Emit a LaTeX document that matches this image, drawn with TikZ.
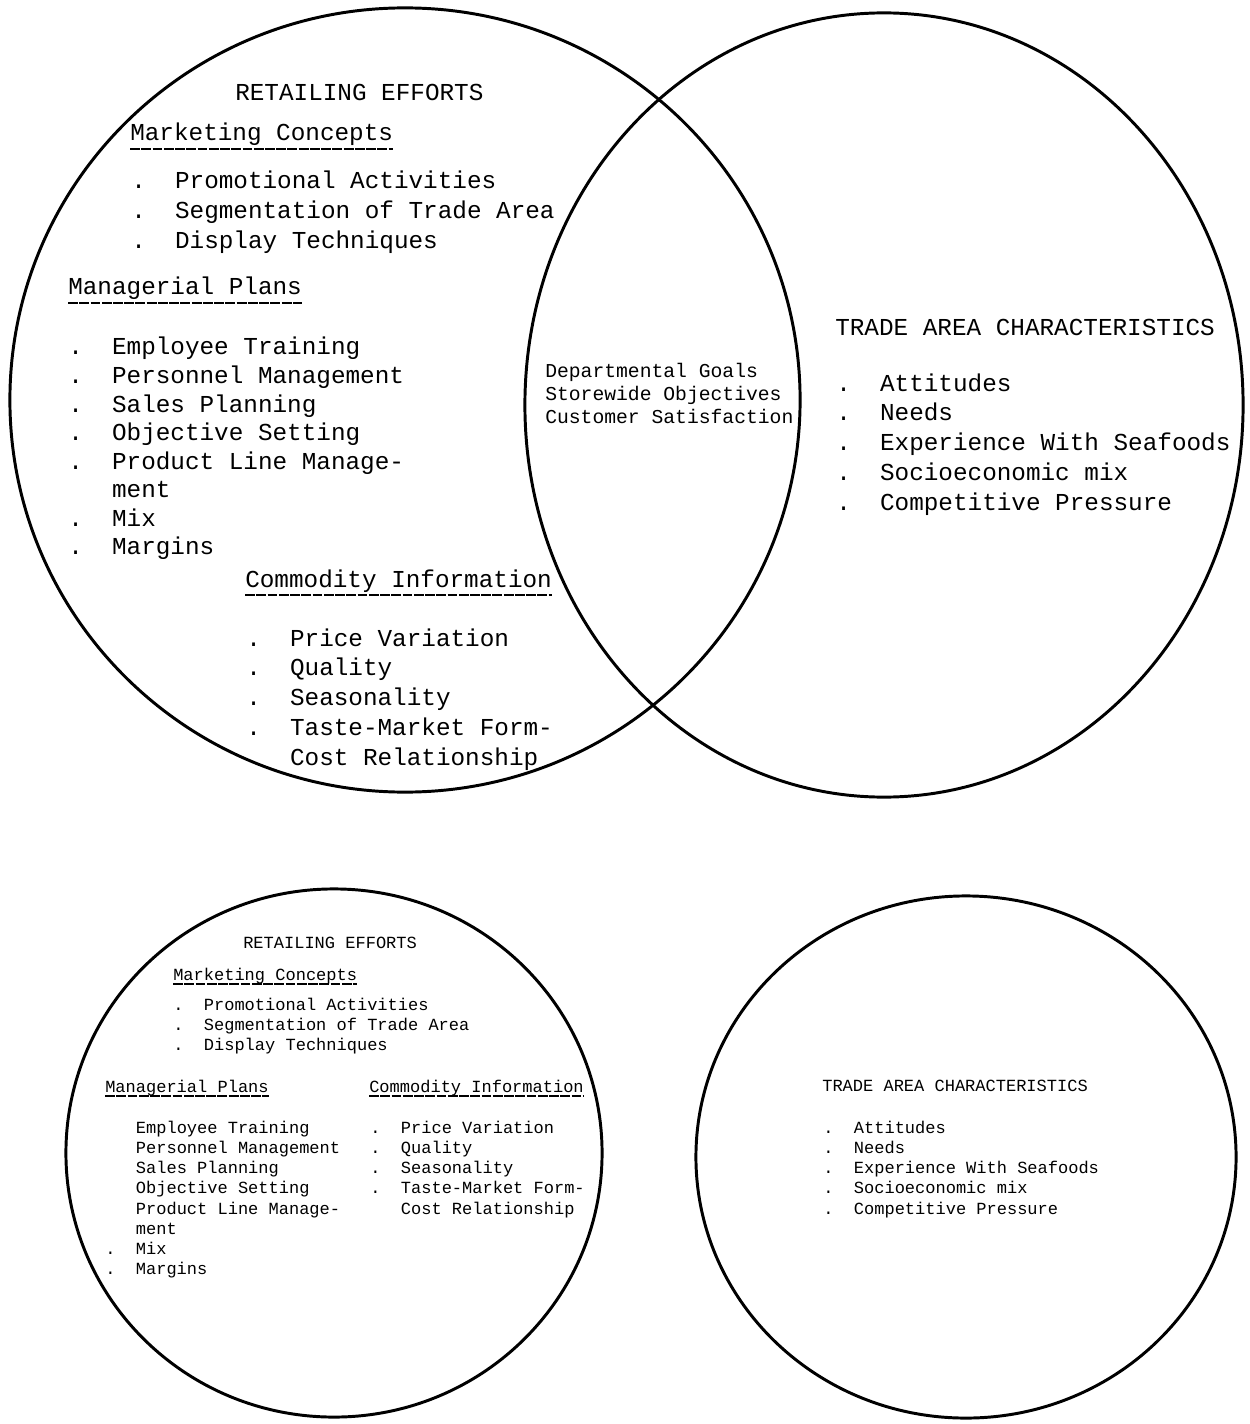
\documentclass[tikz,border=0pt]{standalone}
\usepackage{fontspec}
\setmonofont{Liberation Mono}

\begin{document}
\begin{tikzpicture}[x = 0.025cm, y = -0.025cm, ring/.style = {draw, line width = 2.1pt}, txt/.style = {anchor = base west, inner sep = 0pt, font = \ttfamily\fontsize{17.3}{21}\selectfont}, lst/.style = {txt, font = \ttfamily\fontsize{17.3}{#1}\selectfont}, lens/.style = {txt, font = \ttfamily\fontsize{14}{16.4}\selectfont}, small/.style = {txt, font = \ttfamily\fontsize{12.1}{14.4}\selectfont}, uline/.style = {line width = 1.1pt, dash pattern = on 7pt off 1pt}]
\useasboundingbox (0,0) rectangle (1249,1424);

% upper pair
\draw[ring] (405,400) ellipse [x radius = 9.875cm, y radius = 9.8cm];
\draw[ring] (884,405) ellipse [x radius = 8.975cm, y radius = 9.8cm];

\node[txt] (re1) at (235,101) {RETAILING EFFORTS};
\node[txt] (mc1) at (130,141) {Marketing Concepts};
\node[lst = 21.3] (mcl1) at (131,189) {\begin{tabular}[t]{@{}l@{}}.~~Promotional Activities\\.~~Segmentation of Trade Area\\.~~Display Techniques\end{tabular}};
\node[txt] (mp1) at (68,295) {Managerial Plans};
\node[lst = 20.3] (mpl1) at (68,355) {\begin{tabular}[t]{@{}l@{}}.~~Employee Training\\.~~Personnel Management\\.~~Sales Planning\\.~~Objective Setting\\.~~Product Line Manage-\\~~~ment\\.~~Mix\\.~~Margins\end{tabular}};
\node[txt] (ci1) at (245,587) {Commodity Information};
\node[lst = 21.2] (cil1) at (246,646) {\begin{tabular}[t]{@{}l@{}}.~~Price Variation\\.~~Quality\\.~~Seasonality\\.~~Taste-Market Form-\\~~~Cost Relationship\end{tabular}};

\node[lens] (goals) at (545,377) {\begin{tabular}[t]{@{}l@{}}Departmental Goals\\Storewide Objectives\\Customer Satisfaction\end{tabular}};

\node[txt] (tac1) at (835,335) {TRADE AREA CHARACTERISTICS};
\node[lst = 21.3] (tacl1) at (836,391) {\begin{tabular}[t]{@{}l@{}}.~~Attitudes\\.~~Needs\\.~~Experience With Seafoods\\.~~Socioeconomic mix\\.~~Competitive Pressure\end{tabular}};

\draw[uline] ([yshift = -5.5pt]mc1.base west) -- ([yshift = -5.5pt]mc1.base east);
\draw[uline] ([yshift = -5.5pt]mp1.base west) -- ([yshift = -5.5pt]mp1.base east);
\draw[uline] ([yshift = -5.5pt]ci1.base west) -- ([yshift = -5.5pt]ci1.base east);

% lower pair
\draw[ring] (334,1153) ellipse [x radius = 6.7cm, y radius = 6.6cm];
\draw[ring] (966,1157) ellipse [x radius = 6.75cm, y radius = 6.525cm];

\node[small] (re2) at (243,948) {RETAILING EFFORTS};
\node[small] (mc2) at (173,980) {Marketing Concepts};
\node[small] (mcl2) at (173,1010) {\begin{tabular}[t]{@{}l@{}}.~~Promotional Activities\\.~~Segmentation of Trade Area\\.~~Display Techniques\end{tabular}};
\node[small] (mp2) at (105,1092) {Managerial Plans};
\node[small] (mpl2) at (105,1133) {\begin{tabular}[t]{@{}l@{}}~~~Employee Training\\~~~Personnel Management\\~~~Sales Planning\\~~~Objective Setting\\~~~Product Line Manage-\\~~~ment\\.~~Mix\\.~~Margins\end{tabular}};
\node[small] (ci2) at (369,1092) {Commodity Information};
\node[small] (cil2) at (370,1133) {\begin{tabular}[t]{@{}l@{}}.~~Price Variation\\.~~Quality\\.~~Seasonality\\.~~Taste-Market Form-\\~~~Cost Relationship\end{tabular}};

\node[small] (tac2) at (822,1091) {TRADE AREA CHARACTERISTICS};
\node[small] (tacl2) at (823,1133) {\begin{tabular}[t]{@{}l@{}}.~~Attitudes\\.~~Needs\\.~~Experience With Seafoods\\.~~Socioeconomic mix\\.~~Competitive Pressure\end{tabular}};

\draw[uline] ([yshift = -3pt]mc2.base west) -- ([yshift = -3pt]mc2.base east);
\draw[uline] ([yshift = -3pt]mp2.base west) -- ([yshift = -3pt]mp2.base east);
\draw[uline] ([yshift = -3pt]ci2.base west) -- ([yshift = -3pt]ci2.base east);
\end{tikzpicture}
\end{document}
